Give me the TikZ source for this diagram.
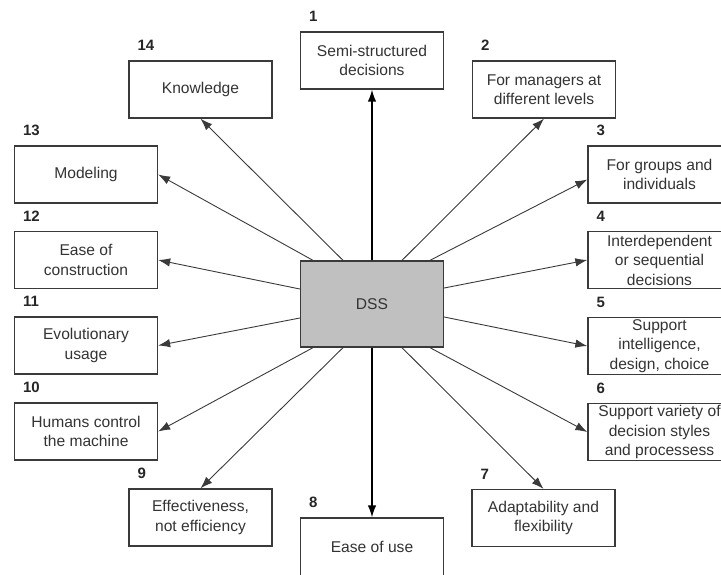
\documentclass[tikz,border=0pt]{standalone}
\usepackage{fontspec}
\setmainfont{Liberation Sans}
\usetikzlibrary{arrows.meta,calc}
\definecolor{txt}{HTML}{333333}
\definecolor{edge}{HTML}{3A3A3A}
\definecolor{dssfill}{HTML}{C0C0C0}
\begin{document}
\begin{tikzpicture}[x=1pt,y=-1pt,
  box/.style={draw=edge,line width=1.3pt,minimum width=143pt,minimum height=57pt,
    inner sep=0pt,align=center,text=txt,font=\fontsize{15.6}{19.5}\selectfont},
  numlab/.style={anchor=base west,inner sep=0pt,text=black!85,font=\fontsize{15}{18}\selectfont\bfseries},
  arr/.style={draw=edge,line width=0.9pt,-{Latex[length=12pt,width=8.5pt]}},
  arrv/.style={draw=black,line width=1.4pt,-{Latex[length=12pt,width=8.5pt]}}]
\useasboundingbox (0,0) rectangle (721,574);
\clip (0,0) rectangle (721,574);
\node[box,fill=dssfill,minimum height=86pt] (dss) at (372,304) {DSS};
\node[box] (b1) at (372,60.5) {Semi-structured\\decisions};
\node[box] (b2) at (544,89.5) {For managers at\\different levels};
\node[box] (b3) at (659.5,174.5) {For groups and\\individuals};
\node[box] (b4) at (659.5,260) {Interdependent\\or sequential\\decisions};
\node[box] (b5) at (659.5,346) {Support\\intelligence,\\design, choice};
\node[box] (b6) at (659.5,432) {Support variety of\\decision styles\\and processess};
\node[box] (b7) at (543.5,518) {Adaptability and\\flexibility};
\node[box,minimum height=62pt,text depth=4pt] (b8) at (372,549) {Ease of use};
\node[box] (b9) at (200.5,517.5) {Effectiveness,\\not efficiency};
\node[box] (b10) at (86,431.5) {Humans control\\the machine};
\node[box] (b11) at (86,345.5) {Evolutionary\\usage};
\node[box] (b12) at (86,260) {Ease of\\construction};
\node[box] (b13) at (86,174.5) {Modeling};
\node[box] (b14) at (200.5,89.5) {Knowledge};
\foreach \i in {1,...,14} {
  \node[numlab] (n\i) at ($(b\i.north west)+(9,-9.5)$) {\i};
}
\draw[arrv] (dss.north) -- (b1.south);
\draw[arrv] (dss.south) -- (b8.north);
\draw[arr] ($(dss.north)+(30,0)$) -- (b2.south);
\draw[arr] ($(dss.north)+(58,0)$) -- ($(b3.west)+(0,5)$);
\draw[arr] ($(dss.east)+(0,-16)$) -- (b4.west);
\draw[arr] ($(dss.east)+(0,13)$) -- (b5.west);
\draw[arr] ($(dss.south)+(58,0)$) -- (b6.west);
\draw[arr] ($(dss.south)+(30,0)$) -- (b7.north);
\draw[arr] ($(dss.south)+(-29,0)$) -- (b9.north);
\draw[arr] ($(dss.south)+(-59,0)$) -- (b10.east);
\draw[arr] ($(dss.west)+(0,14)$) -- (b11.east);
\draw[arr] ($(dss.west)+(0,-15)$) -- (b12.east);
\draw[arr] ($(dss.north)+(-59,0)$) -- (b13.east);
\draw[arr] ($(dss.north)+(-29,0)$) -- (b14.south);
\end{tikzpicture}
\end{document}
